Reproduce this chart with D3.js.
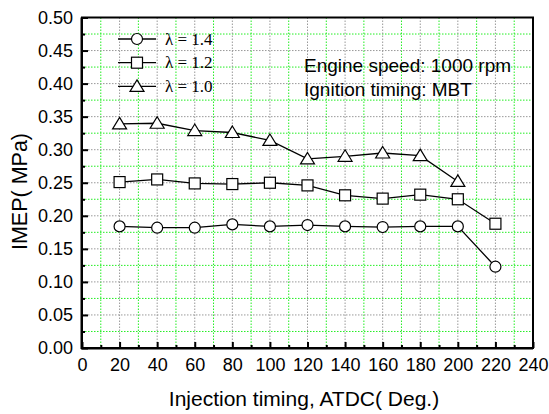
<!DOCTYPE html>
<html>
<head>
<meta charset="utf-8">
<script src="https://cdn.jsdelivr.net/npm/d3@7"></script>
<style>
  body { margin: 0; background: #fff; }
  svg { display: block; font-family: "Liberation Sans", Arial, sans-serif; }
</style>
</head>
<body>
<div id="chart"></div>
<script>
// injection timing (deg ATDC)
const timing = [20, 40, 60, 80, 100, 120, 140, 160, 180, 200, 220];
const imep14 = [0.184, 0.182, 0.182, 0.187, 0.184, 0.186, 0.184, 0.183, 0.184, 0.184, 0.123];
const imep12 = [0.251, 0.255, 0.249, 0.248, 0.250, 0.246, 0.231, 0.226, 0.232, 0.225, 0.188];
const imep10 = [0.339, 0.340, 0.329, 0.326, 0.314, 0.286, 0.290, 0.295, 0.291, 0.252];
const seriesNames = ["\u03bb = 1.4", "\u03bb = 1.2", "\u03bb = 1.0"];
const xTicks = d3.range(0, 241, 20);
const yTicks = d3.range(0, 0.501, 0.05);

const W = 549, H = 414;
const margin = {top: 17.5, right: 16, bottom: 66, left: 82};
const width = W - margin.left - margin.right;
const height = H - margin.top - margin.bottom;

const svg = d3.select("#chart").append("svg")
    .attr("width", W)
    .attr("height", H);

const g = svg.append("g")
    .attr("transform", `translate(${margin.left},${margin.top})`);

const x = d3.scaleLinear().domain([0, 240]).range([0, width]);
const y = d3.scaleLinear().domain([0, 0.5]).range([height, 0]);

// grid: minor green, major gray
const minorX = d3.range(10, 240, 20);
const minorY = d3.range(0.025, 0.5, 0.05);
g.selectAll("line.mgx").data(minorX).enter().append("line")
    .attr("x1", d => x(d)).attr("x2", d => x(d))
    .attr("y1", 0).attr("y2", height)
    .attr("stroke", "#22ee22").attr("stroke-dasharray", "1.5,1.5");
g.selectAll("line.mgy").data(minorY.concat([0.5])).enter().append("line")
    .attr("y1", d => y(d)).attr("y2", d => y(d))
    .attr("x1", 0).attr("x2", width)
    .attr("stroke", "#22ee22").attr("stroke-dasharray", "1.5,1.5");
g.selectAll("line.gx").data(xTicks.slice(1, -1)).enter().append("line")
    .attr("x1", d => x(d)).attr("x2", d => x(d))
    .attr("y1", 0).attr("y2", height)
    .attr("stroke", "#999").attr("stroke-dasharray", "1.5,1.5");
g.selectAll("line.gy").data(yTicks.slice(1, -1)).enter().append("line")
    .attr("y1", d => y(d)).attr("y2", d => y(d))
    .attr("x1", 0).attr("x2", width)
    .attr("stroke", "#999").attr("stroke-dasharray", "1.5,1.5");

// axes
const xAxis = g.append("g")
    .attr("transform", `translate(0,${height})`)
    .call(d3.axisBottom(x).tickValues(xTicks).tickSizeInner(-6).tickSizeOuter(0).tickPadding(10));
const xMinor = g.append("g")
    .attr("transform", `translate(0,${height})`)
    .call(d3.axisBottom(x).tickValues(minorX).tickSize(-3).tickFormat(""));
const yAxis = g.append("g")
    .call(d3.axisLeft(y).tickValues(yTicks).tickSizeInner(-6).tickSizeOuter(0).tickPadding(9)
        .tickFormat(d3.format(".2f")));
const yMinor = g.append("g")
    .call(d3.axisLeft(y).tickValues(minorY).tickSize(-3).tickFormat(""));

[xAxis, yAxis, xMinor, yMinor].forEach(a => {
    a.selectAll(".domain").remove();
    a.selectAll(".tick line").attr("stroke", "#000").attr("stroke-width", 2);
});
[xAxis, yAxis].forEach(a => {
    a.selectAll("text")
        .style("font-family", "'Liberation Sans', Arial, sans-serif")
        .style("font-size", "18px")
        .attr("fill", "#000");
});
xAxis.selectAll("text").attr("dy", "0.71em");

// frame
g.append("rect")
    .attr("width", width).attr("height", height)
    .attr("fill", "none").attr("stroke", "#000").attr("stroke-width", 2);
g.append("line").attr("x1", -1).attr("x2", width).attr("y1", height + 0.5).attr("y2", height + 0.5)
    .attr("stroke", "#000").attr("stroke-width", 2);
g.append("line").attr("x1", -0.5).attr("x2", -0.5).attr("y1", 0).attr("y2", height + 1)
    .attr("stroke", "#000").attr("stroke-width", 2);

// series
const series = [
    {name: seriesNames[0], values: imep14, shape: "circle"},
    {name: seriesNames[1], values: imep12, shape: "square"},
    {name: seriesNames[2], values: imep10, shape: "triangle"}
];

const line = d3.line().x(d => x(d[0])).y(d => y(d[1]));

function drawMarker(sel, shape) {
    if (shape === "circle") {
        sel.append("circle").attr("r", 5.5);
    } else if (shape === "square") {
        sel.append("rect").attr("x", -5.5).attr("y", -5.5).attr("width", 11).attr("height", 11);
    } else {
        sel.append("path").attr("d", "M0,-6.5L7,5L-7,5Z");
    }
    sel.selectAll("*").attr("fill", "#fff").attr("stroke", "#000").attr("stroke-width", 1.2);
}

series.forEach(s => {
    const pts = s.values.map((v, i) => [timing[i], v]);
    g.append("path")
        .datum(pts)
        .attr("d", line)
        .attr("fill", "none")
        .attr("stroke", "#000")
        .attr("stroke-width", 1.3);
    g.selectAll(null).data(pts).enter().append("g")
        .attr("transform", d => `translate(${x(d[0])},${y(d[1])})`)
        .each(function() { drawMarker(d3.select(this), s.shape); });
});

// legend
const legend = g.append("g").attr("transform", `translate(${118 - margin.left},0)`);
series.forEach((s, i) => {
    const ly = 39 - margin.top + i * 23.7;
    const row = legend.append("g").attr("transform", `translate(0,${ly})`);
    row.append("line").attr("x1", 0).attr("x2", 38).attr("y1", 0).attr("y2", 0)
        .attr("stroke", "#000").attr("stroke-width", 1.3);
    const m = row.append("g").attr("transform", "translate(19,0)");
    drawMarker(m, s.shape);
    row.append("text")
        .attr("x", 47).attr("y", 5.5)
        .style("font-family", "'Liberation Serif', 'Times New Roman', serif")
        .style("font-size", "17px")
        .text(s.name);
});

// annotation
const note = g.append("g").attr("transform", `translate(${304 - margin.left},0)`);
note.append("text").attr("x", 0).attr("y", 71.5 - margin.top)
    .style("font-size", "19px").text("Engine speed: 1000 rpm");
note.append("text").attr("x", 0).attr("y", 95.5 - margin.top)
    .style("font-size", "19px").text("Ignition timing: MBT");

// axis titles
svg.append("text")
    .attr("x", 304).attr("y", 406)
    .attr("text-anchor", "middle")
    .style("font-size", "21px")
    .text("Injection timing, ATDC( Deg.)");
svg.append("text")
    .attr("transform", `translate(27,191.5) rotate(-90)`)
    .attr("text-anchor", "middle")
    .style("font-size", "21.5px")
    .text("IMEP( MPa)");
</script>
</body>
</html>
